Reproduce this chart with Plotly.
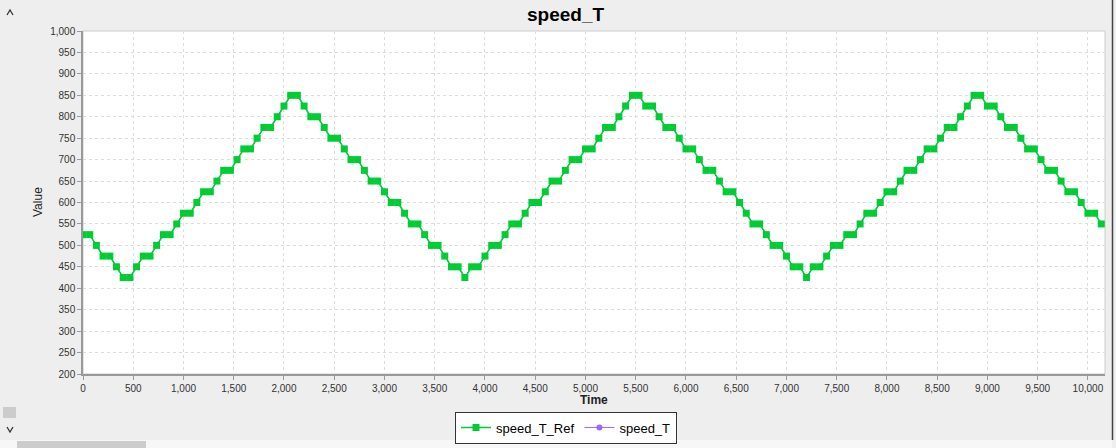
import plotly.graph_objects as go

# ---------------- data ----------------
time = [
    0, 67, 133, 200, 267, 333, 400, 467, 533, 600, 667, 733, 800, 867, 933,
    1000, 1067, 1133, 1200, 1267, 1333, 1400, 1467, 1533, 1600, 1667, 1733, 1800, 1867, 1933,
    2000, 2067, 2133, 2200, 2267, 2333, 2400, 2467, 2533, 2600, 2667, 2733, 2800, 2867, 2933,
    3000, 3067, 3133, 3200, 3267, 3333, 3400, 3467, 3533, 3600, 3667, 3733, 3800, 3867, 3933,
    4000, 4067, 4133, 4200, 4267, 4333, 4400, 4467, 4533, 4600, 4667, 4733, 4800, 4867, 4933,
    5000, 5067, 5133, 5200, 5267, 5333, 5400, 5467, 5533, 5600, 5667, 5733, 5800, 5867, 5933,
    6000, 6067, 6133, 6200, 6267, 6333, 6400, 6467, 6533, 6600, 6667, 6733, 6800, 6867, 6933,
    7000, 7067, 7133, 7200, 7267, 7333, 7400, 7467, 7533, 7600, 7667, 7733, 7800, 7867, 7933,
    8000, 8067, 8133, 8200, 8267, 8333, 8400, 8467, 8533, 8600, 8667, 8733, 8800, 8867, 8933,
    9000, 9067, 9133, 9200, 9267, 9333, 9400, 9467, 9533, 9600, 9667, 9733, 9800, 9867, 9933,
    10000, 10067, 10133,
]

speed_T_Ref = [
    525, 525, 500, 475, 475, 450, 425, 425, 450, 475, 475, 500, 525, 525, 550,
    575, 575, 600, 625, 625, 650, 675, 675, 700, 725, 725, 750, 775, 775, 800,
    825, 850, 850, 825, 800, 800, 775, 750, 750, 725, 700, 700, 675, 650, 650,
    625, 600, 600, 575, 550, 550, 525, 500, 500, 475, 450, 450, 425, 450, 450,
    475, 500, 500, 525, 550, 550, 575, 600, 600, 625, 650, 650, 675, 700, 700,
    725, 725, 750, 775, 775, 800, 825, 850, 850, 825, 825, 800, 775, 775, 750,
    725, 725, 700, 675, 675, 650, 625, 625, 600, 575, 550, 550, 525, 500, 500,
    475, 450, 450, 425, 450, 450, 475, 500, 500, 525, 525, 550, 575, 575, 600,
    625, 625, 650, 675, 675, 700, 725, 725, 750, 775, 775, 800, 825, 850, 850,
    825, 825, 800, 775, 775, 750, 725, 725, 700, 675, 675, 650, 625, 625, 600,
    575, 575, 550,
]

speed_T = [
    525, 525, 500, 475, 475, 450, 425, 425, 450, 475, 475, 500, 525, 525, 550,
    575, 575, 600, 625, 625, 650, 675, 675, 700, 725, 725, 750, 775, 775, 800,
    825, 850, 850, 825, 800, 800, 775, 750, 750, 725, 700, 700, 675, 650, 650,
    625, 600, 600, 575, 550, 550, 525, 500, 500, 475, 450, 450, 425, 450, 450,
    475, 500, 500, 525, 550, 550, 575, 600, 600, 625, 650, 650, 675, 700, 700,
    725, 725, 750, 775, 775, 800, 825, 850, 850, 825, 825, 800, 775, 775, 750,
    725, 725, 700, 675, 675, 650, 625, 625, 600, 575, 550, 550, 525, 500, 500,
    475, 450, 450, 425, 450, 450, 475, 500, 500, 525, 525, 550, 575, 575, 600,
    625, 625, 650, 675, 675, 700, 725, 725, 750, 775, 775, 800, 825, 850, 850,
    825, 825, 800, 775, 775, 750, 725, 725, 700, 675, 675, 650, 625, 625, 600,
    575, 575, 550,
]

TITLE = "speed_T"
X_TITLE = "Time"
Y_TITLE = "Value"

# ---------------- layout geometry ----------------
W, H = 1116, 448
L, R, T, B = 83, 11, 31, 74
PW, PH = W - L - R, H - T - B


def px(x):
    return (x - L) / PW


def py(y):
    return (H - B - y) / PH


FONT = "Liberation Sans, Arial, sans-serif"
GREEN = "#00CC33"
PURPLE = "#9966FF"

fig = go.Figure()

fig.add_trace(go.Scatter(
    x=time, y=speed_T, name="speed_T", mode="lines+markers",
    line=dict(color=PURPLE, width=1),
    marker=dict(symbol="circle", size=6, color=PURPLE),
    legendrank=2,
))
fig.add_trace(go.Scatter(
    x=time, y=speed_T_Ref, name="speed_T_Ref", mode="lines+markers",
    line=dict(color=GREEN, width=1.5),
    marker=dict(symbol="square", size=7, color=GREEN, line=dict(width=0)),
    legendrank=1,
))

shapes = [
    dict(type="rect", xref="paper", yref="paper", x0=0, x1=1, y0=0, y1=1,
         line=dict(color="#CCCCCC", width=1), layer="below"),
    dict(type="line", xref="paper", yref="paper", x0=px(1112.5), x1=px(1112.5),
         y0=py(0), y1=py(440), line=dict(color="#444444", width=1.5)),
    dict(type="path", xref="paper", yref="paper",
         path=f"M {px(7)},{py(15)} L {px(10)},{py(10)} L {px(13)},{py(15)}",
         line=dict(color="#333333", width=1.3)),
    dict(type="path", xref="paper", yref="paper",
         path=f"M {px(7)},{py(427)} L {px(10)},{py(432)} L {px(13)},{py(427)}",
         line=dict(color="#333333", width=1.3)),
    dict(type="rect", xref="paper", yref="paper", x0=px(3), x1=px(16),
         y0=py(418), y1=py(407), fillcolor="#CCCCCC", line=dict(width=0)),
    dict(type="rect", xref="paper", yref="paper", x0=px(0), x1=px(1112),
         y0=py(448), y1=py(440), fillcolor="#F7F7F7", line=dict(width=0)),
    dict(type="rect", xref="paper", yref="paper", x0=px(17), x1=px(146),
         y0=py(448), y1=py(441), fillcolor="#CCCCCC", line=dict(width=0)),
]

annotations = [
    dict(text=f"<b>{TITLE}</b>", xref="paper", yref="paper", x=px(565), y=py(15),
         xanchor="center", yanchor="middle", showarrow=False,
         font=dict(family=FONT, size=19, color="#000000")),
    dict(text=f"<b>{X_TITLE}</b>", xref="paper", yref="paper", x=px(594), y=py(400),
         xanchor="center", yanchor="middle", showarrow=False,
         font=dict(family=FONT, size=12, color="#222222")),
    dict(text=Y_TITLE, xref="paper", yref="paper", x=px(38), y=py(202),
         xanchor="center", yanchor="middle", showarrow=False, textangle=-90,
         font=dict(family=FONT, size=12, color="#222222")),
]

axis_common = dict(
    showline=True, linecolor="#999999", linewidth=1.5,
    ticks="outside", ticklen=4, tickcolor="#999999",
    showgrid=True, gridcolor="#DDDDDD", griddash="dot", gridwidth=1,
    zeroline=False, tickformat=",d", automargin=False,
    tickfont=dict(family=FONT, size=10, color="#333333"),
)

fig.update_layout(
    width=W, height=H,
    margin=dict(l=L, r=R, t=T, b=B, pad=0, autoexpand=False),
    paper_bgcolor="#EEEEEE", plot_bgcolor="#FFFFFF",
    xaxis=dict(range=[0, 10170], tick0=0, dtick=500, **axis_common),
    yaxis=dict(range=[200, 1000], tick0=200, dtick=50, **axis_common),
    showlegend=True,
    legend=dict(
        orientation="h", xref="container", yref="container",
        x=566 / W, xanchor="center", y=1 - 427.5 / H, yanchor="middle",
        bgcolor="#FFFFFF", bordercolor="#333333", borderwidth=1,
        font=dict(family=FONT, size=13, color="#000000"),
        itemwidth=30, tracegroupgap=0,
    ),
    shapes=shapes,
    annotations=annotations,
)

fig.write_html(
    "out.html",
    config={"displayModeBar": False},
    post_script="document.body.style.margin='0';document.body.style.overflow='hidden';",
)
